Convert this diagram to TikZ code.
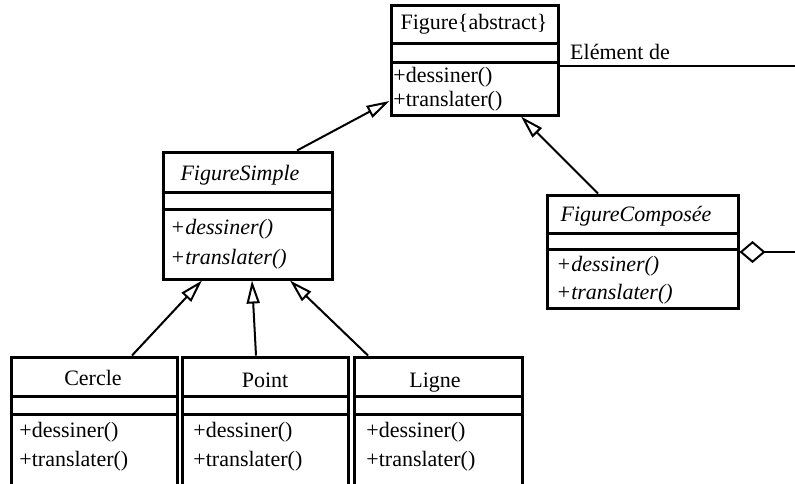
\documentclass[tikz,border=0pt]{standalone}
\usepackage{fontspec}
\setmainfont{Liberation Serif}
\usetikzlibrary{arrows.meta,positioning}

\begin{document}
\begin{tikzpicture}[
        x=0.5pt, y=-0.5pt,
        every node/.style={font=\fontsize{11}{13}\selectfont},
        cls/.style={rectangle, draw, line width=1.5pt},
        title/.style={inner sep=0pt},
        meth/.style={anchor=west, inner sep=0pt},
        sep/.style={line width=1.5pt},
        inherit/.style={-{Triangle[open, length=11.5pt, width=6.5pt]}, line width=1pt}
    ]
        \useasboundingbox (0,0) rectangle (795,483);
        \clip (0,0) rectangle (795,483);

        % Top: abstract class
        \node[cls, minimum width=83.5pt, minimum height=55pt] (fig) at (474.5,60) {};
        \node[title] (figname) at (474,24) {Figure\{abstract\}};
        \draw[sep] (fig.west |- 0,43) -- (fig.east |- 0,43);
        \draw[sep] (fig.west |- 0,62) -- (fig.east |- 0,62);
        \node[meth] (figdraw) at (393,77) {+dessiner()};
        \node[meth] (figmove) at (393,101) {+translater()};

        % Middle: simple and composite figures
        \node[cls, minimum width=84.5pt, minimum height=63.5pt] (fs) at (247.5,215.5) {};
        \node[title] (fsname) at (240,175) {\itshape FigureSimple};
        \draw[sep] (fs.west |- 0,192) -- (fs.east |- 0,192);
        \draw[sep] (fs.west |- 0,209) -- (fs.east |- 0,209);
        \node[meth] (fsdraw) at (170,229) {\itshape +dessiner()};
        \node[meth] (fsmove) at (170,259) {\itshape +translater()};

        \node[cls, minimum width=95.5pt, minimum height=56.5pt] (fc) at (642.5,251.5) {};
        \node[title] (fcname) at (636,216) {\itshape FigureCompos\'ee};
        \draw[sep] (fc.west |- 0,233) -- (fc.east |- 0,233);
        \draw[sep] (fc.west |- 0,249) -- (fc.east |- 0,249);
        \node[meth] (fcdraw) at (556,266) {\itshape +dessiner()};
        \node[meth] (fcmove) at (556,294) {\itshape +translater()};

        % Bottom: concrete figures
        \node[cls, minimum width=83pt, minimum height=91.5pt] (cercle) at (94,448.5) {};
        \node[title] (cerclename) at (93,378) {Cercle};
        \node[cls, minimum width=83pt, minimum height=91.5pt] (point) at (265,448.5) {};
        \node[title] (pointname) at (265,380) {Point};
        \node[cls, minimum width=84pt, minimum height=91.5pt] (ligne) at (438,448.5) {};
        \node[title] (lignename) at (435,383) {Ligne};
        \foreach \c in {cercle, point, ligne} {
            \draw[sep] (\c.west |- 0,396) -- (\c.east |- 0,396);
            \draw[sep] (\c.west |- 0,414) -- (\c.east |- 0,414);
        }
        \node[meth] (cercledraw) at (19,432) {+dessiner()};
        \node[meth] (cerclemove) at (19,461) {+translater()};
        \node[meth] (pointdraw) at (193,432) {+dessiner()};
        \node[meth] (pointmove) at (193,461) {+translater()};
        \node[meth] (lignedraw) at (366,432) {+dessiner()};
        \node[meth] (lignemove) at (366,461) {+translater()};

        % Inheritance
        \draw[inherit] (132,0 |- cercle.north) -- (202,0 |- fs.south);
        \draw[inherit] (256,0 |- point.north) -- (252,0 |- fs.south);
        \draw[inherit] (368,0 |- ligne.north) -- (290,0 |- fs.south);
        \draw[inherit] (297,0 |- fs.north) -- (fig.west |- 0,101);
        \draw[inherit] (598,0 |- fc.north) -- (521,0 |- fig.south);

        % Association and aggregation (leave the picture on the right)
        \coordinate (elemend) at (795,66);
        \coordinate (compend) at (795,252);
        \node[title] (elem) at (620,52) {El\'ement de};
        \draw[line width=1pt] (fig.east |- elemend) -- (elemend);
        \draw[{Diamond[open, length=13pt, width=11pt]}-, line width=1pt] (fc.east |- compend) -- (compend);
    \end{tikzpicture}
\end{document}
